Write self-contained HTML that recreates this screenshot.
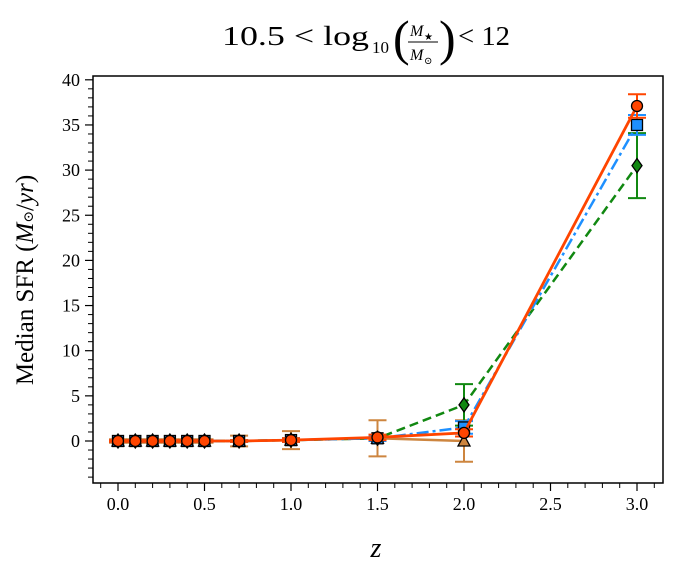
<!DOCTYPE html>
<html><head><meta charset="utf-8"><style>
body{margin:0;background:#fff}
svg{font-family:"Liberation Serif","DejaVu Serif",serif}
</style></head><body>
<svg id="chart" width="674" height="572" viewBox="0 0 674 572">
<g font-size="27">
<text x="222" y="45" textLength="147" lengthAdjust="spacingAndGlyphs">10.5 &lt; log</text>
<text x="372" y="53" font-size="17">10</text>
<text x="393" y="55" font-size="50" font-weight="lighter">(</text>
<text x="410" y="36" font-size="16" font-style="italic">M</text><text x="424" y="40" font-size="10">★</text>
<line x1="408" y1="42" x2="438" y2="42" stroke="#000" stroke-width="1"/>
<text x="410" y="60" font-size="16" font-style="italic">M</text><text x="424" y="64" font-size="10">⊙</text>
<text x="439" y="55" font-size="50">)</text>
<text x="458" y="45" textLength="52" lengthAdjust="spacingAndGlyphs">&lt; 12</text>
</g>
<text x="33" y="280" font-size="25" text-anchor="middle" transform="rotate(-90 33 280)">Median SFR (<tspan font-style="italic">M</tspan><tspan font-size="14">⊙</tspan>/<tspan font-style="italic">yr</tspan>)</text>
<text x="376" y="557" font-size="28" font-style="italic" text-anchor="middle">z</text>
<g id="axes"></g>
<g id="series"></g>
<rect x="93" y="76" width="570" height="407" fill="none" stroke="#000" stroke-width="1.5"/>
</svg>
<script>
const zValues=[0,0.1,0.2,0.3,0.4,0.5,0.7,1.0,1.5,2.0,3.0];
const brownVals=[0,0,0,0,0,0,0,0.1,0.3,0];
const brownErr=[0.2,0.2,0.2,0.2,0.2,0.2,0.6,1.0,2.0,2.3];
const greenVals=[0,0,0,0,0,0,0,0.1,0.3,4.0,30.5];
const greenErr=[0.1,0.1,0.1,0.1,0.1,0.1,0.1,0.2,0.3,2.3,3.6];
const blueVals=[0,0,0,0,0,0,0,0.1,0.3,1.5,35.0];
const blueErr=[0.1,0.1,0.1,0.1,0.1,0.1,0.1,0.2,0.3,0.7,1.1];
const redVals=[0,0,0,0,0,0,0,0.1,0.4,0.9,37.1];
const redErr=[0.1,0.1,0.1,0.1,0.1,0.1,0.1,0.2,0.3,0.4,1.3];
const xTicks=["0.0","0.5","1.0","1.5","2.0","2.5","3.0"];
const yTicks=["0","5","10","15","20","25","30","35","40"];
const NS="http://www.w3.org/2000/svg";
const X=v=>118+v*173, Y=v=>441-v*9.03;
function mk(tag,attrs,parent){const e=document.createElementNS(NS,tag);for(const k in attrs)e.setAttribute(k,attrs[k]);parent.appendChild(e);return e;}
const ax=document.getElementById('axes');
xTicks.forEach(t=>{const v=parseFloat(t);
 const l=mk('line',{x1:X(v),x2:X(v),y1:483,y2:491,stroke:'#000','stroke-width':1.2},ax);
 
 
 const tx=mk('text',{x:X(v),y:510,'font-size':18,'text-anchor':'middle'},ax);tx.textContent=t;
 
 });
for(let i=-1;i<=31;i++){const v=i/10;if(i%5===0)continue;const px=X(v);if(px<93||px>663)continue;
 mk('line',{x1:px,x2:px,y1:483,y2:488,stroke:'#000','stroke-width':1},ax);}
yTicks.forEach(t=>{const v=parseFloat(t);
 const l=mk('line',{x1:85,x2:93,y1:Y(v),y2:Y(v),stroke:'#000','stroke-width':1.2},ax);
 
 
 const tx=mk('text',{x:80,y:Y(v)+6,'font-size':18,'text-anchor':'end'},ax);tx.textContent=t;
 
 });
for(let v=-4;v<=40;v++){if(v%5===0)continue;mk('line',{x1:88,x2:93,y1:Y(v),y2:Y(v),stroke:'#000','stroke-width':1},ax);}
const sg=document.getElementById('series');
function series(name,vals,errs,color,dash,marker,lw){
 const g=mk('g',{},sg);
 
 
 vals.forEach((v,i)=>{const x=X(zValues[i]);const e=errs[i];
  mk('line',{x1:x,x2:x,y1:Y(v-e),y2:Y(v+e),stroke:color,'stroke-width':2},g);
  mk('line',{x1:x-9,x2:x+9,y1:Y(v-e),y2:Y(v-e),stroke:color,'stroke-width':2},g);
  mk('line',{x1:x-9,x2:x+9,y1:Y(v+e),y2:Y(v+e),stroke:color,'stroke-width':2},g);});
 const pts=vals.map((v,i)=>X(zValues[i])+','+Y(v)).join(' ');
 const pl={points:pts,fill:'none',stroke:color,'stroke-width':lw};if(dash)pl['stroke-dasharray']=dash;
 mk('polyline',pl,g);
 vals.forEach((v,i)=>{const x=X(zValues[i]),y=Y(v);let m;
  if(marker==='tri')m=mk('polygon',{points:`${x},${y-6} ${x-6},${y+5} ${x+6},${y+5}`},g);
  else if(marker==='dia')m=mk('polygon',{points:`${x},${y-7} ${x+5},${y} ${x},${y+7} ${x-5},${y}`},g);
  else if(marker==='sq')m=mk('rect',{x:x-5.5,y:y-5.5,width:11,height:11},g);
  else m=mk('circle',{cx:x,cy:y,r:5.5},g);
  m.setAttribute('fill',color);m.setAttribute('stroke','#000');m.setAttribute('stroke-width',1.3);
  
  });
}
series('series-brown',brownVals,brownErr,'#cd853f',null,'tri',2.5);
series('series-green',greenVals,greenErr,'#118811','9,5',"dia",2.5);
series('series-blue',blueVals,blueErr,'#1e90ff','12,4,3,4','sq',2.5);
series('series-red',redVals,redErr,'#ff4500',null,'circ',2.8);
</script>
</body></html>
